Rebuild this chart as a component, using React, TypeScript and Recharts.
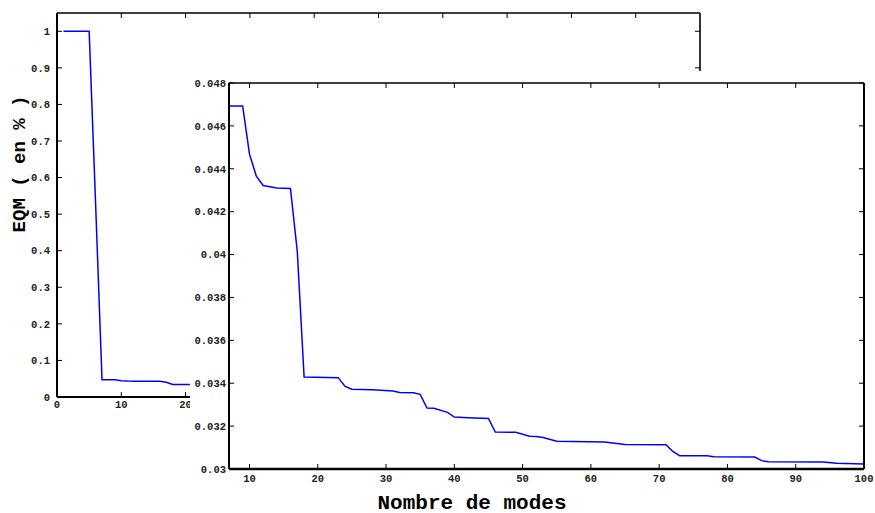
import { LineChart, Line, XAxis, YAxis, ReferenceLine } from "recharts";

// EQM vs nombre de modes (outer view: full range, inset: zoom from 7 modes)
const modesDebut = [1, 2, 3, 4, 5, 6];
const eqmDebut = [1, 1, 1, 1, 1, 0.53];

const modes = [
  7, 9, 10, 11, 12, 14, 16, 17, 18, 23, 24, 25, 28, 31, 32, 34, 35, 36, 37, 39,
  40, 42, 45, 46, 49, 51, 52, 53, 55, 62, 65, 71, 72, 73, 77, 78, 84, 85, 86, 94,
  96, 100,
];
const eqm = [
  0.04693, 0.04693, 0.04468, 0.04366, 0.04322, 0.0431, 0.04308, 0.04015, 0.03429,
  0.03426, 0.03385, 0.03372, 0.03369, 0.03364, 0.03357, 0.03356, 0.03348, 0.03284,
  0.03283, 0.03264, 0.03242, 0.03239, 0.03236, 0.03172, 0.03171, 0.03153, 0.03152,
  0.03147, 0.03129, 0.03126, 0.03114, 0.03113, 0.03082, 0.03062, 0.03062, 0.03057,
  0.03056, 0.03039, 0.03034, 0.03033, 0.03027, 0.03023,
];

const outerXTicks = [0, 10, 20, 30, 40, 50, 60, 70, 80, 90, 100];
const outerYTicks = [0, 0.1, 0.2, 0.3, 0.4, 0.5, 0.6, 0.7, 0.8, 0.9, 1];
const insetXTicks = [10, 20, 30, 40, 50, 60, 70, 80, 90, 100];
const insetYTicks = [0.03, 0.032, 0.034, 0.036, 0.038, 0.04, 0.042, 0.044, 0.046, 0.048];

const outerYDomain = [0, 1.05];
const insetYDomain = [0.03, 0.048];

const allModes = [...modesDebut, ...modes];
const allEqm = [...eqmDebut, ...eqm];
const outerData = allModes.map((m, i) => ({ mode: m, eqm: allEqm[i] }));
const insetData = modes.map((m, i) => ({ mode: m, eqm: eqm[i] }));

const mono = "'Liberation Mono', 'DejaVu Sans Mono', monospace";
const tickStyle = { fill: "#222", fontSize: 10.5, fontFamily: mono, fontWeight: "bold" };
const fmt = (v: number) => String(Number(v.toFixed(3)));
const blank = () => "";

// short inward tick marks on the top border (length ~ 5px in data units)
const topTicks = (ticks: number[], dom: number[], plotH: number, yId: string, xId: string) =>
  ticks.map((t) => {
    const top = dom[1];
    const len = ((dom[1] - dom[0]) * 5) / plotH;
    return (
      <ReferenceLine key={"tt" + t} xAxisId={xId} yAxisId={yId} ifOverflow="visible"
        segment={[{ x: t, y: top }, { x: t, y: top - len }]} stroke="#000" strokeWidth={1} />
    );
  });

export default function App() {
  return (
    <div style={{ position: "absolute", left: 0, top: 0, width: 875, height: 513, background: "#fff" }}>
      {/* vue globale */}
      <div style={{ position: "absolute", left: 0, top: 0 }}>
        <LineChart width={875} height={513} data={outerData} margin={{ top: 13, left: 0, right: 165, bottom: 86 }}>
          <XAxis xAxisId="b" type="number" dataKey="mode" domain={[0, 100]} ticks={outerXTicks} allowDataOverflow
            height={30} tickSize={-5} tickMargin={9} tick={tickStyle} interval={0}
            axisLine={{ stroke: "#000", strokeWidth: 2 }} tickLine={{ stroke: "#000" }} />
          <YAxis yAxisId="l" type="number" domain={outerYDomain} ticks={outerYTicks} allowDataOverflow
            width={57} tickSize={-5} tickMargin={12} tick={tickStyle} tickFormatter={fmt} interval={0}
            axisLine={{ stroke: "#000", strokeWidth: 2 }} tickLine={{ stroke: "#000" }} />
          <YAxis yAxisId="r" orientation="right" type="number" domain={outerYDomain} ticks={outerYTicks} allowDataOverflow
            width={10} tickSize={-5} tickFormatter={blank} interval={0}
            axisLine={{ stroke: "#333", strokeWidth: 2 }} tickLine={{ stroke: "#000" }} />
          <ReferenceLine xAxisId="b" yAxisId="l" y={outerYDomain[1]} stroke="#000" strokeWidth={1.5} />
          {topTicks(outerXTicks, outerYDomain, 384, "l", "b")}
          <Line xAxisId="b" yAxisId="l" type="linear" dataKey="eqm" stroke="#0000ff" strokeWidth={1.5}
            dot={false} isAnimationActive={false} />
        </LineChart>
      </div>

      {/* zoom */}
      <div style={{ position: "absolute", left: 190, top: 71, width: 685, height: 442, background: "#fff" }}>
        <LineChart width={685} height={442} data={insetData} margin={{ top: 12, left: 0, right: 0, bottom: 14 }}>
          <XAxis xAxisId="b" type="number" dataKey="mode" domain={[7, 100]} ticks={insetXTicks} allowDataOverflow
            height={30} tickSize={-5} tickMargin={11} tick={tickStyle} interval={0}
            axisLine={{ stroke: "#000", strokeWidth: 2.5 }} tickLine={{ stroke: "#000" }} />
          <YAxis yAxisId="l" type="number" domain={insetYDomain} ticks={insetYTicks} allowDataOverflow
            width={39} tickSize={-5} tickMargin={8} tick={tickStyle} tickFormatter={fmt} interval={0}
            axisLine={{ stroke: "#000", strokeWidth: 2 }} tickLine={{ stroke: "#000" }} />
          <YAxis yAxisId="r" orientation="right" type="number" domain={insetYDomain} ticks={insetYTicks} allowDataOverflow
            width={11} tickSize={-5} tickFormatter={blank} interval={0}
            axisLine={{ stroke: "#000", strokeWidth: 2 }} tickLine={{ stroke: "#000" }} />
          <ReferenceLine xAxisId="b" yAxisId="l" y={insetYDomain[1]} stroke="#000" strokeWidth={1.5} />
          {topTicks(insetXTicks, insetYDomain, 386, "l", "b")}
          <Line xAxisId="b" yAxisId="l" type="linear" dataKey="eqm" stroke="#0000ff" strokeWidth={1.5}
            dot={false} isAnimationActive={false} />
        </LineChart>
      </div>

      <div style={{ position: "absolute", left: 20, top: 164, transform: "translate(-50%, -50%) rotate(-90deg)",
        whiteSpace: "nowrap", fontFamily: mono, fontWeight: "bold", fontSize: 19, color: "#000" }}>
        EQM ( en % )
      </div>
      <div style={{ position: "absolute", left: 472, top: 503, transform: "translate(-50%, -50%)",
        whiteSpace: "nowrap", fontFamily: mono, fontWeight: "bold", fontSize: 21, color: "#000" }}>
        Nombre de modes
      </div>
    </div>
  );
}
